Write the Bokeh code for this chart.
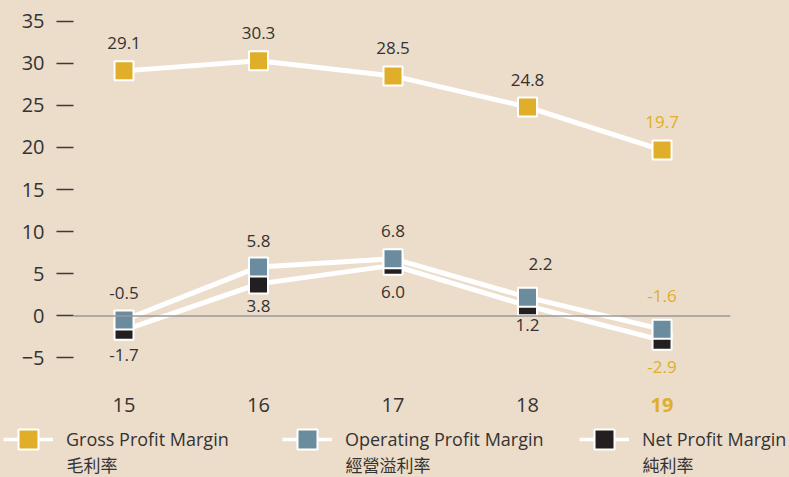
from bokeh.plotting import figure
from bokeh.layouts import column
from bokeh.models import (ColumnDataSource, Range1d, FixedTicker, Span, Label,
                          Legend, LegendItem)
from bokeh.embed import file_html
from bokeh.resources import INLINE
from bokeh.core.properties import value

# ---- data ----
years = [15, 16, 17, 18, 19]
year_labels = ["15", "16", "17", "18", "19"]
gross = [29.1, 30.3, 28.5, 24.8, 19.7]
operating = [-0.5, 5.8, 6.8, 2.2, -1.6]
net = [-1.7, 3.8, 6.0, 1.2, -2.9]
y_ticks = [-5, 0, 5, 10, 15, 20, 25, 30, 35]
series_names = ["Gross Profit Margin", "Operating Profit Margin", "Net Profit Margin"]
series_names_zh = ["毛利率", "經營溢利率", "純利率"]

# ---- style ----
BG = "#ECDCCA"
GOLD = "#E0AE28"
BLUE = "#6A8C9E"
BLACK = "#231F20"
TEXT = "#333333"
FONT = "Open Sans"
CJK = "Noto Sans CJK TC"

# value-label nudges in screen px (style only)
gross_dy = [-28, -28, -28, -27, -28]
op_dy = [-27, -26, -28, -33, -33]
op_dx = [0, 0, 0, 13, 0]
net_dy = [25, 22, 27, 19, 27]

W = 789
LEFT, RIGHT = 73, 59
X0, X1 = 14.6245, 19.509
px_per_x = (W - LEFT - RIGHT) / (X1 - X0)

p = figure(width=W, height=385, output_backend="svg", toolbar_location=None,
           x_range=Range1d(X0, X1), y_range=Range1d(-7.08, 36.27),
           x_axis_location=None,
           min_border_left=LEFT, min_border_right=RIGHT, min_border_top=10,
           min_border_bottom=10)
p.frame_align = False
p.background_fill_color = BG
p.border_fill_color = BG
p.outline_line_color = None
p.grid.visible = False
p.styles = {"background-color": BG}

# y axis
p.yaxis.ticker = FixedTicker(ticks=y_ticks)
p.yaxis.axis_line_color = None
p.yaxis.major_tick_out = 17
p.yaxis.major_tick_in = 0
p.yaxis.major_tick_line_color = "#3a3a3a"
p.yaxis.major_tick_line_width = 1.3
p.yaxis.minor_tick_line_color = None
p.yaxis.major_label_standoff = 12
p.yaxis.major_label_text_font = FONT
p.yaxis.major_label_text_font_size = "20px"
p.yaxis.major_label_text_color = TEXT

# zero line
p.add_layout(Span(location=0, dimension="width", line_color="#9a9a9a", line_width=1.5))

# series
label_colors = [TEXT] * (len(years) - 1) + [GOLD]
series = [
    (gross, GOLD, gross_dy, [0] * len(years)),
    (net, BLACK, net_dy, [0] * len(years)),
    (operating, BLUE, op_dy, op_dx),
]
for vals, color, dy, dx in series:
    src = ColumnDataSource(dict(x=years, y=vals, t=[f"{v:.1f}" for v in vals],
                                c=label_colors, dy=dy, dx=dx))
    p.line("x", "y", source=src, line_color="white", line_width=5)
    p.scatter("x", "y", source=src, marker="square", size=19, fill_color=color,
              line_color="white", line_width=2)
    p.text("x", "y", text="t", source=src, y_offset="dy", x_offset="dx",
           text_align="center", text_baseline="middle", text_font=value(FONT),
           text_font_size="17px", text_color="c")

# ---- bottom strip: year labels + legend (shares the x scale) ----
H2 = 92
q = figure(width=W, height=H2, output_backend="svg", toolbar_location=None,
           x_range=Range1d(X0 - LEFT / px_per_x, X1 + RIGHT / px_per_x),
           y_range=Range1d(H2, 0), x_axis_location=None, y_axis_location=None,
           min_border=0)
q.frame_align = False
q.background_fill_color = BG
q.border_fill_color = BG
q.outline_line_color = None
q.grid.visible = False
q.styles = {"background-color": BG}

ysrc = ColumnDataSource(dict(x=years, t=year_labels,
                             c=[TEXT] * (len(years) - 1) + [GOLD],
                             s=["normal"] * (len(years) - 1) + ["bold"],
                             y=[19.5] * len(years)))
q.text("x", "y", text="t", source=ysrc, text_align="center", text_baseline="middle",
       text_font=value(FONT), text_font_size="20px", text_color="c",
       text_font_style="s")

nan = float("nan")
leg_specs = [(GOLD, 3), (BLUE, 282), (BLACK, 579)]
for (color, lx), name, zh in zip(leg_specs, series_names, series_names_zh):
    dummy = ColumnDataSource(dict(x=[nan], y=[nan]))
    ln = q.line("x", "y", source=dummy, line_color="white", line_width=3.5)
    sc = q.scatter("x", "y", source=dummy, marker="square", size=20, fill_color=color,
                   line_color="white", line_width=2)
    leg = Legend(items=[LegendItem(label=name, renderers=[ln, sc])],
                 location=(lx, 13), glyph_width=50, glyph_height=50,
                 label_standoff=13, padding=0, margin=0, border_line_color=None,
                 background_fill_alpha=0, label_text_font=FONT,
                 label_text_font_size="18px", label_text_color=TEXT)
    q.add_layout(leg, "center")
    q.add_layout(Label(x=lx + 50 + 13, y=13, x_units="screen", y_units="screen",
                       text=zh, text_baseline="middle", text_font=CJK,
                       text_font_size="17px", text_color=TEXT))

layout = column(p, q, spacing=0)
layout.styles = {"background-color": BG}
html = file_html(layout, INLINE)
html = html.replace("<body>", '<body style="margin:0;background:%s">' % BG, 1)
open("out.html", "w").write(html)
